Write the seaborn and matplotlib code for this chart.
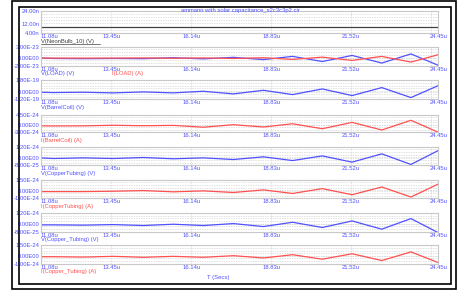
import numpy as np
import pandas as pd
import seaborn as sns
import matplotlib.pyplot as plt
from matplotlib.patches import Rectangle
from matplotlib.lines import Line2D

# time points (microseconds)
t_us = [11.08, 11.50, 12.51, 13.52, 14.53, 15.54, 16.55, 17.56, 18.57, 19.55, 20.55, 21.55, 22.55, 23.53, 24.45]

# series values (in the unit shown by each panel's scale)
v_neonbulb = [9.4, 9.4, 9.4, 9.4, 9.4, 9.4, 9.4, 9.4, 9.4, 9.4, 9.4, 9.4, 9.4, 9.4, 9.4]          # nV
v_load = [0.0, -0.1, -0.15, -0.1, -0.15, 0.1, -0.2, 0.2, -0.4, 0.45, -0.9, 0.7, -1.3, 1.1, -1.9]      # e-23
i_load = [0.0, 0.0, 0.0, 0.0, 0.05, -0.05, 0.05, -0.1, 0.1, -0.35, 0.25, -0.6, 0.45, -1.05, 0.9]     # e-23
v_barrelcoil = [-0.1, -0.15, -0.1, -0.2, -0.05, -0.2, 0.05, -0.36, 0.2, -0.47, 0.41, -0.62, 0.62, -0.93, 0.93]  # e-19
i_barrelcoil = [-0.2, -0.25, -0.2, 0.05, -0.15, 0.0, -0.8, 0.3, -0.7, 0.7, -1.45, 1.3, -2.0, 2.2, -3.0]       # e-24
v_coppertubing = [0.0, -0.07, 0.0, -0.07, 0.04, -0.1, 0.0, -0.18, 0.11, -0.29, 0.21, -0.46, 0.43, -0.71, 0.79]  # e-24
i_coppertubing = [-0.1, -0.1, -0.1, -0.05, 0.04, -0.13, 0.0, -0.22, 0.13, -0.35, 0.3, -0.52, 0.52, -0.83, 0.92] # e-24
v_copper_tubing = [-0.07, -0.07, -0.1, -0.04, -0.14, 0.0, -0.14, 0.07, -0.25, 0.21, -0.35, 0.35, -0.53, 0.6, -0.91]  # e-24
i_copper_tubing = [-0.05, -0.05, -0.1, 0.0, -0.13, 0.0, -0.13, 0.09, -0.22, 0.22, -0.39, 0.35, -0.57, 0.6, -0.85]   # e-24

x_ticks = [11.08, 13.45, 16.14, 18.83, 21.52, 24.45]
x_ticklabels = ['11.08u', '13.45u', '16.14u', '18.83u', '21.52u', '24.45u']
x_grid = [13.45, 16.14, 18.83, 21.52, 24.21]

BLUE = '#5050ff'
RED = '#ff5050'
GRAY = '#404040'

sns.set_style('white')
plt.rcParams['font.family'] = ['Liberation Sans', 'DejaVu Sans']

W, H = 461, 291
fig = plt.figure(figsize=(W / 100, H / 100), dpi=100)

# double frame
fig.add_artist(Rectangle((11.5 / W, 1 - 289 / H), 444 / W, 288 / H, transform=fig.transFigure,
                         fill=False, lw=1.2, ec='black'))
fig.add_artist(Rectangle((18.5 / W, 1 - 284.3 / H), 432 / W, 277 / H, transform=fig.transFigure,
                         fill=False, lw=1.2, ec='black'))

# (top_px, bottom_px, ylo, yhi, ytick values, ytick labels, series)
panels = [
    (10.7, 33.0, 4, 24, [4, 12, 24], ['4.00n', '12.00n', '24.00n'],
     [('V(NeonBulb_10) (V)', v_neonbulb, GRAY)]),
    (46.7, 65.7, -2, 3, [-2, 0, 3], ['-2.00E-23', '0.00E00', '3.00E-23'],
     [('V(LOAD) (V)', v_load, BLUE), ('I(LOAD) (A)', i_load, RED)]),
    (80.0, 99.3, -1.2, 1.8, [-1.2, 0, 1.8], ['-1.20E-19', '0.00E00', '1.80E-19'],
     [('V(BarrelCoil) (V)', v_barrelcoil, BLUE)]),
    (115.0, 132.3, -3.0, 4.5, [-3.0, 0, 4.5], ['-3.00E-24', '0.00E00', '4.50E-24'],
     [('I(BarrelCoil) (A)', i_barrelcoil, RED)]),
    (146.7, 165.3, -0.8, 1.2, [-0.8, 0, 1.2], ['-8.00E-25', '0.00E00', '1.20E-24'],
     [('V(CopperTubing) (V)', v_coppertubing, BLUE)]),
    (179.7, 198.3, -1.0, 1.5, [-1.0, 0, 1.5], ['-1.00E-24', '0.00E00', '1.50E-24'],
     [('I(CopperTubing) (A)', i_coppertubing, RED)]),
    (213.0, 231.7, -0.8, 1.2, [-0.8, 0, 1.2], ['-8.00E-25', '0.00E00', '1.20E-24'],
     [('V(Copper_Tubing) (V)', v_copper_tubing, BLUE)]),
    (245.3, 263.7, -1.0, 1.5, [-1.0, 0, 1.5], ['-1.00E-24', '0.00E00', '1.50E-24'],
     [('I(Copper_Tubing) (A)', i_copper_tubing, RED)]),
]

left_px, right_px = 40.7, 438.3
fs = 4.2

for k, (top, bot, ylo, yhi, yt, ytl, series) in enumerate(panels):
    ax = fig.add_axes([left_px / W, 1 - bot / H, (right_px - left_px) / W, (bot - top) / H])
    for name, vals, col in series:
        df = pd.DataFrame({'t': t_us, 'v': vals})
        sns.lineplot(data=df, x='t', y='v', color=col, lw=0.9, ax=ax)
    ax.set_xlim(11.08, 24.45)
    ax.set_ylim(ylo, yhi)
    ax.set_xlabel('')
    ax.set_ylabel('')
    # light grid
    for g in np.linspace(ylo, yhi, 8)[1:-1]:
        ax.axhline(g, color='#d4d4d4', lw=0.5, ls=(0, (2, 1.5)), zorder=0)
    ax.axhline(0, color='#d4d4d4', lw=0.5, ls=(0, (2, 1.5)), zorder=0)
    for g in x_grid:
        ax.axvline(g, color='#d4d4d4', lw=0.5, ls=(0, (2, 1.5)), zorder=0)
    for s in ax.spines.values():
        s.set_color('#c8c8c8')
        s.set_linewidth(0.8)
    ax.set_xticks(x_ticks)
    ax.set_xticklabels(x_ticklabels)
    ax.set_yticks(yt)
    ax.set_yticklabels(ytl)
    ax.tick_params(length=0, labelsize=fs, labelcolor=BLUE, pad=0.8)
    ax.get_xticklabels()[0].set_ha('left')
    ax.get_xticklabels()[-1].set_ha('center')
    # series labels under the panel
    ly = 1 - (bot + 8.2) / H
    xs = [left_px, 111.7]
    for j, (name, vals, col) in enumerate(series):
        fig.text(xs[j] / W, ly, name, fontsize=fs, color=col, va='center', ha='left')
    if k == 0:
        fig.add_artist(Line2D([left_px / W, 100 / W], [ly - 2.6 / H, ly - 2.6 / H],
                              color=GRAY, lw=0.5, transform=fig.transFigure))

fig.text(240.7 / W, 1 - 10.7 / H, 'ammann with solar capacitance_s2c3c3p2.cir',
         fontsize=fs, color=BLUE, ha='center', va='center')
fig.text(218 / W, 1 - 277 / H, 'T (Secs)', fontsize=fs, color=BLUE, ha='center', va='center')

fig.savefig('out.png', dpi=100, facecolor='white')
